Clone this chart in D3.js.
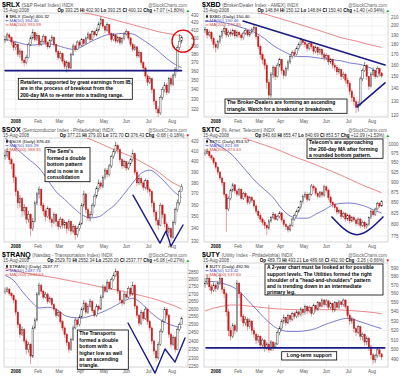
<!DOCTYPE html>
<html><head><meta charset="utf-8">
<script src="https://cdn.jsdelivr.net/npm/d3@7/dist/d3.min.js"></script>
<style>
html,body{margin:0;padding:0;background:#fff;}
svg{display:block;font-family:"Liberation Sans",Arial,sans-serif;}
</style></head><body>
<svg id="chart" width="400" height="381"></svg>
<script>
// ---------- shared axis data ----------
const monthDays = [0, 21, 41, 61, 83, 104, 125, 147];
const monthLabels = ["2008", "Feb", "Mar", "Apr", "May", "Jun", "Jul", "Aug"];
const maIdx = [0,4,8,12,16,20,24,28,32,36,40,44,48,52,56,60,64,68,72,76,80,83];

// ---------- $RLX ----------
const rlxHLC = [
[403,394,398],[407,396,404],[406,398,401],[402,391,395],[396,384,388],[395,385,392],[393,377,380],[387,376,384],[385,369,373],[376,366,370],
[379,368,376],[394,375,392],[403,390,400],[411,398,407],[408,395,398],[406,396,403],[404,389,392],[399,390,396],[405,394,402],[403,391,394],
[396,386,389],[399,387,397],[404,395,401],[402,389,392],[393,380,383],[385,373,376],[384,374,381],[382,369,372],[374,363,366],[373,359,370],
[372,361,364],[382,363,380],[393,378,390],[392,383,386],[397,385,395],[397,388,391],[400,389,398],[399,390,393],[402,392,400],[408,398,405],
[406,395,398],[410,397,408],[409,401,404],[413,402,410],[421,408,418],[428,415,424],[425,412,415],[417,406,410],[420,408,417],[418,403,406],
[407,395,398],[406,396,404],[405,393,396],[403,394,401],[402,391,394],[401,392,399],[407,397,405],[411,403,408],[409,397,400],[401,389,392],
[394,383,386],[392,384,389],[390,375,378],[385,376,382],[383,367,370],[372,360,364],[366,352,355],[357,344,348],[355,346,352],[353,336,340],
[342,324,328],[330,316,320],[323,311,316],[334,314,332],[343,329,340],[348,337,345],[347,334,337],[354,336,352],[355,343,346],[358,344,356],
[365,353,362],[391,360,388],[405,385,396],[402.9,393,400.32]];
const rlxMA50 = [398,396,393,391,392,393,391,388,386,389,395,400,404,405,406,405,399,392,384,375,368,364.4];
const rlxMA200 = [455,453,451,449,446,443,440,437,435,433,431.5,429,426,423,420,417,414,411,408,406,404,403];
const rlxTicks = [320,330,340,350,360,370,380,390,400,410,420,430];
const rlxYDomain = [312, 432.7];
const rlxQuote = ["393.25","402.90","393.25","400.32","+7.07 (+1.80%)"];
const rlxLegend = ["$RLX (Daily) 400.32","MA(50) 364.40","MA(200) 393.99"];
const rlxNote = ["Retailers, supported by great earnings from IB,","are in the process of breakout from the","200-day MA to re-enter into a trading range."];
const rlxSupport = [[-10,361],[156,361]];
const rlxCircle = [157.3, 396];

// ---------- $XBD ----------
const xbdHLC = [
[199,192,196],[197,186,190],[195,188,193],[194,183,186],[188,176,180],[183,172,177],[185,175,183],[190,181,188],[196,186,194],[200,191,197],
[198,187,190],[195,188,193],[196,188,191],[197,189,195],[196,186,189],[195,187,193],[194,187,190],[192,184,187],[194,185,192],[197,190,195],
[196,188,190],[195,188,193],[198,191,196],[201,194,198],[199,185,188],[190,175,178],[180,166,170],[172,161,165],[167,156,160],[162,140,145],
[148,128,135],[154,133,152],[160,149,158],[159,147,150],[162,149,160],[167,158,165],[166,152,155],[157,148,151],[159,150,157],[165,155,163],
[170,161,168],[174,166,172],[175,167,170],[178,169,176],[182,174,180],[187,178,185],[186,179,182],[184,177,180],[182,173,176],[183,174,181],
[183,175,178],[179,170,173],[179,171,177],[178,169,172],[177,170,175],[176,167,170],[172,164,167],[171,165,169],[170,160,163],[167,161,165],
[166,157,160],[162,155,158],[160,151,154],[158,152,156],[157,147,150],[154,148,152],[153,144,147],[149,141,144],[146,135,138],[140,130,133],
[135,127,130],[132,122,126],[130,123,128],[150,127,148],[157,146,155],[163,154,160],[161,147,150],[151,139,142],[154,141,152],[158,150,155],
[156,148,150],[159,149,157],[158,150,153],[154,149,150.4]];
const xbdMA50 = [205,205,204,202,199,196,192,186,179,174,170,168,168,167,166,165,164,162,161,159,155,150.5];
const xbdMA200 = [232,230,227,224,221,218,216,214,211,208,205,202,199,196,193,190,187,185,183,180.5,178.5,176.9];
const xbdTicks = [120,130,140,150,160,170,180,190,200,210];
const xbdYDomain = [119.2, 215.2];
const xbdQuote = ["148.84","150.12","148.84","150.40","+1.40 (+0.94%)"];
const xbdLegend = ["$XBD (Daily) 150.40","MA(50) 150.46","MA(200) 176.85"];
const xbdNote = ["The Broker-Dealers are forming an ascending","triangle. Watch for a breakout or breakdown."];
const xbdUpper = [[25.7,205.6],[159.2,160.2]];
const xbdLower = [[132.9,126.3],[159.2,144.7]];

// ---------- $SOX ----------
const soxHLC = [
[412,402,406],[414,404,410],[411,398,402],[404,393,398],[399,380,385],[387,368,372],[374,357,362],[369,358,366],[367,350,355],[361,351,358],
[359,344,348],[355,345,352],[353,334,340],[349,338,346],[364,345,362],[372,360,370],[377,366,374],[375,357,360],[362,351,355],[357,346,350],
[359,349,357],[358,345,348],[350,341,345],[354,344,352],[353,342,346],[348,339,342],[350,340,348],[349,340,343],[347,340,345],[346,336,340],
[348,338,346],[347,335,338],[344,336,342],[343,331,335],[342,333,340],[346,338,344],[362,343,360],[373,358,370],[371,353,356],[358,346,349],
[355,346,352],[362,350,360],[370,358,368],[377,366,375],[383,372,380],[382,374,377],[387,375,385],[394,383,392],[394,385,388],[398,386,396],
[407,394,405],[413,403,410],[420,408,416],[418,408,412],[413,399,402],[404,393,396],[402,394,400],[401,391,394],[400,392,398],[404,396,402],
[412,400,408],[407,387,390],[392,377,380],[387,378,384],[386,377,380],[382,373,376],[384,374,382],[383,371,374],[376,368,372],[373,358,362],
[364,350,354],[356,343,347],[349,339,343],[362,342,360],[361,349,352],[353,341,344],[346,334,337],[342,334,340],[341,330,333],[347,332,345],
[358,343,356],[365,354,362],[374,360,372],[379,372.7,376.43]];
const soxMA50 = [424,416,408,401,394,383,372,365,358,352,349,350,355,361,370,380,389,392,387,379,371,367];
const soxMA200 = [470,465,460,455,450,445,440,435,430,426,422.5,419,415,411.5,408,404.5,400,395.5,390.5,384,379,376];
const soxTicks = [330,340,350,360,370,380,390,400,410,420];
const soxYDomain = [329.2, 423.8];
const soxQuote = ["377.21","379.00","372.70","376.43","-0.68 (-0.18%)"];
const soxLegend = ["$SOX (Daily) 376.43","MA(50) 365.29","MA(200) 388.35"];
const soxNote = ["The Semi's","formed a double","bottom pattern","and is now in a","consolidation"];
const soxW = [[110.3,368.9],[135.7,328.3],[141.3,338.0],[146,325.9],[157.3,343.1]];

// ---------- $XTC ----------
const xtcHLC = [
[985,968,975],[988,972,980],[982,962,968],[972,956,962],[965,944,950],[953,932,938],[940,918,925],[928,904,910],[914,890,898],[900,862,870],
[872,784,835],[865,830,860],[884,855,880],[898,875,893],[895,872,878],[882,864,870],[886,866,882],[884,855,860],[876,856,872],[876,860,865],
[868,845,850],[866,846,862],[866,850,855],[858,836,842],[846,824,830],[834,814,820],[825,806,812],[816,798,805],[810,790,798],[802,777,792],
[812,788,808],[819,804,815],[828,811,822],[825,808,812],[822,808,818],[830,814,826],[828,805,810],[814,795,800],[804,788,795],[798,782,788],
[802,784,798],[815,795,812],[824,808,820],[834,816,830],[842,826,838],[856,834,852],[869,848,865],[876,860,870],[874,852,858],[874,854,870],
[895,866,890],[894,878,885],[888,866,872],[876,860,865],[878,861,875],[879,862,868],[893,864,888],[892,874,880],[884,856,862],[866,844,850],
[855,838,845],[850,832,838],[842,822,828],[836,824,832],[835,812,818],[829,814,825],[828,806,812],[824,808,820],[823,802,808],[819,804,815],
[820,805,810],[814,796,802],[816,798,812],[815,792,798],[809,794,805],[808,790,795],[804,791,800],[818,797,815],[834,812,830],[833,818,822],
[838,819,835],[852,832,848],[851,838,842],[855.5,840.7,853.57]];
const xtcMA50 = [1020,1005,990,974,950,924,900,881,862,836,819,814,814,823,833,844,848,849,846,840,831,826];
const xtcMA200 = [1060,1050,1040,1030,1021,1013,1005,997,989,980,970,961,953,944,935,926,917,907,897,888,880,873.5];
const xtcTicks = [775,800,825,850,875,900,925,950,975,1000];
const xtcYDomain = [762, 1016.8];
const xtcQuote = ["840.60","855.47","840.69","853.57","+12.09 (+1.53%)"];
const xtcLegend = ["$XTC (Daily) 853.57","MA(50) 821.69","MA(200) 873.43"];
const xtcNote = ["Telecom's are approaching","the 200-day MA after forming","a rounded bottom pattern."];
const xtcU = [[109.3,816.8],[132.8,777.6],[157.3,816.8]];

// ---------- $TRANQ ----------
const tranHLC = [
[2745,2700,2720],[2750,2712,2735],[2740,2690,2705],[2715,2672,2690],[2698,2640,2660],[2670,2560,2580],[2590,2480,2500],[2515,2420,2440],[2490,2430,2470],[2480,2380,2400],
[2415,2320,2350],[2395,2330,2380],[2390,2265,2310],[2495,2300,2480],[2545,2470,2530],[2715,2520,2700],[2780,2690,2760],[2770,2700,2720],[2730,2665,2680],[2715,2670,2700],
[2710,2635,2650],[2685,2640,2670],[2680,2615,2630],[2640,2585,2600],[2610,2545,2560],[2595,2550,2580],[2590,2505,2520],[2530,2460,2480],[2490,2420,2440],[2450,2370,2390],
[2400,2330,2350],[2420,2340,2410],[2495,2400,2480],[2545,2470,2530],[2540,2485,2500],[2565,2490,2550],[2615,2540,2600],[2660,2590,2640],[2650,2565,2580],[2635,2570,2620],
[2670,2610,2650],[2660,2575,2590],[2600,2545,2560],[2635,2550,2620],[2630,2585,2600],[2695,2595,2680],[2765,2670,2750],[2760,2705,2720],[2800,2710,2780],[2790,2725,2740],
[2815,2730,2800],[2850,2790,2830],[2880,2820,2860],[2865,2700,2720],[2730,2640,2660],[2670,2620,2640],[2715,2630,2700],[2710,2665,2680],[2755,2670,2740],[2750,2685,2700],
[2785,2690,2760],[2770,2600,2620],[2630,2540,2560],[2570,2490,2510],[2595,2500,2580],[2590,2525,2540],[2615,2530,2600],[2610,2500,2520],[2530,2460,2480],[2490,2380,2400],
[2410,2320,2340],[2350,2280,2300],[2395,2290,2380],[2475,2370,2460],[2535,2450,2520],[2615,2510,2600],[2610,2540,2560],[2570,2420,2440],[2450,2360,2380],[2435,2370,2420],
[2430,2330,2350],[2485,2345,2470],[2515,2460,2500],[2552.3,2520.2,2537.77]];
const tranMA50 = [2830,2795,2720,2655,2608,2612,2600,2560,2546,2543,2555,2572,2595,2624,2655,2672,2640,2585,2540,2510,2490,2484];
const tranMA200 = [2880,2866,2852,2840,2830,2822,2812,2800,2788,2777,2765,2752,2740,2730,2718,2704,2690,2676,2660,2640,2620,2600];
const tranTicks = [2250,2300,2350,2400,2450,2500,2550,2600,2650,2700,2750,2800,2850];
const tranYDomain = [2248, 2920];
const tranQuote = ["2529.70","2552.34","2520.20","2537.77","+6.08 (+0.27%)"];
const tranLegend = ["$TRANQ (Daily) 2537.77","MA(50) 2487.76","MA(200) 2594.63"];
const tranNote = ["The Transports","formed a double","bottom with a","higher low as well","as an ascending","triangle."];
const tranW = [[105.6,2511],[131,2214],[140.4,2352],[149.8,2276],[159.2,2418]];

// ---------- $UTY ----------
const utyHLC = [
[578,567,572],[582,570,578],[580,564,568],[571,560,564],[573,562,570],[572,562,566],[575,564,572],[583,570,578],[579,561,565],[568,555,560],
[562,535,540],[543,514,520],[524,510,514],[528,512,525],[527,516,520],[576,518,572],[574,555,560],[562,530,535],[538,524,528],[535,525,532],
[534,520,524],[533,522,530],[531,516,520],[523,512,516],[518,506,510],[516,507,514],[515,501,505],[512,503,510],[511,498,502],[508,500,506],
[548,497,500],[510,499,508],[509,499,503],[508,501,506],[520,505,518],[525,515,522],[532,520,530],[537,527,534],[535,525,528],[538,527,536],
[537,529,532],[540,530,538],[540,532,535],[542,533,540],[541,534,537],[545,535,543],[544,536,539],[548,537,546],[547,538,541],[547,539,545],
[546,535,538],[549,537,547],[548,540,543],[552,541,550],[551,543,546],[555,545,553],[554,545,548],[554,546,552],[553,542,545],[551,543,549],
[550,539,542],[552,540,550],[551,542,545],[553,543,551],[552,545,548],[555,546,553],[554,543,546],[547,532,536],[538,526,530],[535,527,532],
[533,518,522],[524,514,518],[526,516,524],[525,510,514],[518,510,516],[517,504,508],[514,505,512],[513,499,503],[505,491,495],[497,486,490],
[496,487,494],[503,492,500],[502,493,496],[493.2,489.7,492.9]];
const utyMA50 = [574,574,572,569,563,553,543,533,525,520,519,519,520,522,526,529,532,533,530,527,524,522];
const utyMA200 = [541,544,546,547.5,547.5,546.5,545.5,544.5,543.5,543,542.5,542.3,542.2,542.2,542.3,542.3,542,541.5,540.8,540,539,537.8];
const utyTicks = [490,500,510,520,530,540,550,560,570,580,590];
const utyYDomain = [483, 596];
const utyQuote = ["489.73","493.21","489.68","492.90","-3.26 (-0.66%)"];
const utyLegend = ["$UTY (Daily) 492.90","MA(50) 523.42","MA(200) 537.60"];
const utyNote = ["A 2-year chart must be looked at for possible","support levels. The Utilities formed the right","shoulder of a \"head-and-shoulders\" pattern","and is trending down in an intermediate","primary leg."];
const utyNote2 = ["Long-term support"];
const utySupport = [[-9,502],[159,502]];

// ---------- panels ----------
const panels = [
 {col:0,row:0,sym:"$RLX",desc:"(S&P Retail Index) INDX",hlc:rlxHLC,ma50:rlxMA50,ma200:rlxMA200,ticks:rlxTicks,yDom:rlxYDomain,quote:rlxQuote,legend:rlxLegend,up:true,
  notes:[{x:18.3,y:78.3,w:114,h:21,lines:rlxNote,lh:6.6}],
  shapes:[{pts:rlxSupport,w:1.6}], circle:rlxCircle},
 {col:1,row:0,sym:"$XBD",desc:"(Broker/Dealer Index - AMEX) INDX",hlc:xbdHLC,ma50:xbdMA50,ma200:xbdMA200,ticks:xbdTicks,yDom:xbdYDomain,quote:xbdQuote,legend:xbdLegend,up:true,
  notes:[{x:25,y:99,w:122,h:14.3,lines:xbdNote,lh:6.6}],
  shapes:[{pts:xbdUpper,w:1.6},{pts:xbdLower,w:1.6}]},
 {col:0,row:1,sym:"$SOX",desc:"(Semiconductor Index - Philadelphia) INDX",hlc:soxHLC,ma50:soxMA50,ma200:soxMA200,ticks:soxTicks,yDom:soxYDomain,quote:soxQuote,legend:soxLegend,up:false,
  notes:[{x:45,y:22.7,w:45,h:34,lines:soxNote,lh:6.5}],
  shapes:[{pts:soxW,w:1.4}]},
 {col:1,row:1,sym:"$XTC",desc:"(N. Amer. Telecom) INDX",hlc:xtcHLC,ma50:xtcMA50,ma200:xtcMA200,ticks:xtcTicks,yDom:xtcYDomain,quote:xtcQuote,legend:xtcLegend,up:true,
  notes:[{x:107,y:14,w:76,h:19.3,lines:xtcNote,lh:6.4}],
  shapes:[{pts:xtcU,w:1.6,curve:true}]},
 {col:0,row:2,sym:"$TRANQ",desc:"(Nasdaq - Transportation Index) INDX",hlc:tranHLC,ma50:tranMA50,ma200:tranMA200,ticks:tranTicks,yDom:tranYDomain,quote:tranQuote,legend:tranLegend,up:true,
  notes:[{x:77.3,y:80,w:51,h:39.3,lines:tranNote,lh:6.4}],
  shapes:[{pts:tranW,w:1.4}]},
 {col:1,row:2,sym:"$UTY",desc:"(Utility Index - Philadelphia) INDX",hlc:utyHLC,ma50:utyMA50,ma200:utyMA200,ticks:utyTicks,yDom:utyYDomain,quote:utyQuote,legend:utyLegend,up:false,
  notes:[{x:65,y:14,w:118,h:31,lines:utyNote,lh:6.2},{x:81.7,y:101.7,w:55,h:8.3,lines:utyNote2,lh:6,center:true}],
  shapes:[{pts:utySupport,w:1.6}]}
];

const svg = d3.select('#chart');
const PL = 4, PR = 188, PT = 13, PB = 117;
const x = d3.scaleLinear().domain([-11, 162]).range([PL, PR]);
const candleDay = i => -10 + 2 * i;
const NAVY = '#1b1b86', MA50C = '#5a5ac4', MA200C = '#e46a6a', DOWN = '#c81c1c';

panels.forEach((p, pi) => {
  const g = svg.append('g').attr('transform', `translate(${p.col * 200},${p.row * 125})`);
  const y = d3.scaleLog().domain(p.yDom).range([PB, PT]);
  const cid = 'clip' + pi;
  g.append('clipPath').attr('id', cid).append('rect')
    .attr('x', PL).attr('y', PT).attr('width', PR - PL).attr('height', PB - PT);

  // plot frame
  g.append('rect').attr('x', PL).attr('y', PT).attr('width', PR - PL).attr('height', PB - PT)
    .attr('fill', '#fff').attr('stroke', '#b8b8b8').attr('stroke-width', 0.6);

  // grid
  g.append('g').selectAll('line').data(p.ticks).join('line')
    .attr('x1', PL).attr('x2', PR).attr('y1', d => y(d)).attr('y2', d => y(d))
    .attr('stroke', '#e4e4e4').attr('stroke-width', 0.5);
  g.append('g').selectAll('line').data(monthDays).join('line')
    .attr('x1', d => x(d)).attr('x2', d => x(d)).attr('y1', PT).attr('y2', PB)
    .attr('stroke', '#e4e4e4').attr('stroke-width', 0.5);

  // y labels
  g.append('g').selectAll('text').data(p.ticks).join('text')
    .attr('x', 198.5).attr('y', d => y(d) + 1.6).attr('text-anchor', 'end')
    .attr('font-size', 4.5).attr('fill', '#555').text(d => d);

  // x labels
  g.append('g').selectAll('text').data(monthLabels).join('text')
    .attr('x', (d, i) => x(monthDays[i])).attr('y', 123.3).attr('text-anchor', 'middle')
    .attr('font-size', 4.5).attr('font-weight', (d, i) => i === 0 ? 'bold' : 'normal')
    .attr('fill', (d, i) => i === 0 ? '#000' : '#555').text(d => d);

  // header line 1
  const t1 = g.append('text').attr('x', 2).attr('y', 7.4);
  t1.append('tspan').attr('font-size', 7).attr('font-weight', 'bold').attr('fill', '#000').text(p.sym);
  t1.append('tspan').attr('font-size', 4.8).attr('fill', '#555').attr('dx', 1.5).text(p.desc);
  g.append('text').attr('x', 187).attr('y', 6.8).attr('text-anchor', 'end')
    .attr('font-size', 4.5).attr('fill', '#666').text('@StockCharts.com');

  // header line 2
  g.append('text').attr('x', 3).attr('y', 12.2).attr('font-size', 4.5).attr('fill', '#444').text('15-Aug-2008');
  const t2 = g.append('text').attr('x', 190).attr('y', 12.2).attr('text-anchor', 'end').attr('font-size', 4.5);
  const labs = ['Op', 'Hi', 'Lo', 'Cl', 'Chg'];
  labs.forEach((l, k) => {
    t2.append('tspan').attr('font-weight', 'bold').attr('fill', '#000').text((k ? '  ' : '') + l + ' ');
    t2.append('tspan').attr('fill', '#333').text(p.quote[k]);
  });
  t2.append('tspan').attr('fill', p.up ? '#0a0' : '#d00').text(p.up ? ' \u25B2' : ' \u25BC');

  const plot = g.append('g').attr('clip-path', `url(#${cid})`);

  // moving averages
  const maLine = d3.line().x((v, k) => x(candleDay(maIdx[k]))).y(v => y(v)).curve(d3.curveMonotoneX);
  plot.append('path').attr('d', maLine(p.ma200)).attr('fill', 'none').attr('stroke', MA200C).attr('stroke-width', 0.8);
  plot.append('path').attr('d', maLine(p.ma50)).attr('fill', 'none').attr('stroke', MA50C).attr('stroke-width', 0.8);

  // candles
  const cg = plot.append('g');
  p.hlc.forEach((c, i) => {
    const cx = x(candleDay(i));
    const o = i ? p.hlc[i - 1][2] : c[2];
    const up = c[2] >= o;
    const col = up ? '#222' : DOWN;
    cg.append('line').attr('x1', cx).attr('x2', cx).attr('y1', y(c[0])).attr('y2', y(c[1]))
      .attr('stroke', up ? '#444' : '#d45a5a').attr('stroke-width', 0.6);
    const yt = y(Math.max(o, c[2])), yb = y(Math.min(o, c[2]));
    cg.append('rect').attr('x', cx - 0.7).attr('width', 1.4).attr('y', yt).attr('height', Math.max(0.5, yb - yt))
      .attr('fill', up ? '#fff' : col).attr('stroke', col).attr('stroke-width', 0.4);
  });

  // legend
  const lg = g.append('g');
  lg.append('line').attr('x1', 7).attr('x2', 7).attr('y1', 14.6).attr('y2', 18.2).attr('stroke', '#000').attr('stroke-width', 0.6);
  lg.append('rect').attr('x', 6.2).attr('y', 15.4).attr('width', 1.6).attr('height', 2).attr('fill', '#000');
  lg.append('text').attr('x', 9.5).attr('y', 17.8).attr('font-size', 4.4).attr('fill', '#000').text(p.legend[0]);
  lg.append('line').attr('x1', 5.5).attr('x2', 8.5).attr('y1', 20.6).attr('y2', 20.6).attr('stroke', MA50C).attr('stroke-width', 0.9);
  lg.append('text').attr('x', 9.5).attr('y', 22.1).attr('font-size', 4.4).attr('fill', '#4a4ab8').text(p.legend[1]);
  lg.append('line').attr('x1', 5.5).attr('x2', 8.5).attr('y1', 24.9).attr('y2', 24.9).attr('stroke', MA200C).attr('stroke-width', 0.9);
  lg.append('text').attr('x', 9.5).attr('y', 26.4).attr('font-size', 4.4).attr('fill', '#d04848').text(p.legend[2]);

  // drawn annotation lines
  p.shapes.forEach(s => {
    const ln = d3.line().x(d => x(d[0])).y(d => y(d[1]));
    if (s.curve) ln.curve(d3.curveNatural);
    g.append('path').attr('d', ln(s.pts)).attr('fill', 'none').attr('stroke', NAVY)
      .attr('stroke-width', s.w).attr('stroke-linejoin', 'round').attr('stroke-linecap', 'round');
  });
  if (p.circle) {
    g.append('circle').attr('cx', x(p.circle[0])).attr('cy', y(p.circle[1])).attr('r', 11)
      .attr('fill', 'none').attr('stroke', '#e00000').attr('stroke-width', 1.3);
  }

  // text boxes
  p.notes.forEach(n => {
    g.append('rect').attr('x', n.x).attr('y', n.y).attr('width', n.w).attr('height', n.h)
      .attr('fill', '#fff').attr('stroke', '#000').attr('stroke-width', 0.8);
    g.append('g').selectAll('text').data(n.lines).join('text')
      .attr('x', n.center ? n.x + n.w / 2 : n.x + 2)
      .attr('text-anchor', n.center ? 'middle' : 'start')
      .attr('y', (d, k) => n.y + 5.4 + k * n.lh)
      .attr('font-size', 5).attr('font-weight', 'bold').attr('fill', '#000').text(d => d);
  });
});
</script>
</body></html>
